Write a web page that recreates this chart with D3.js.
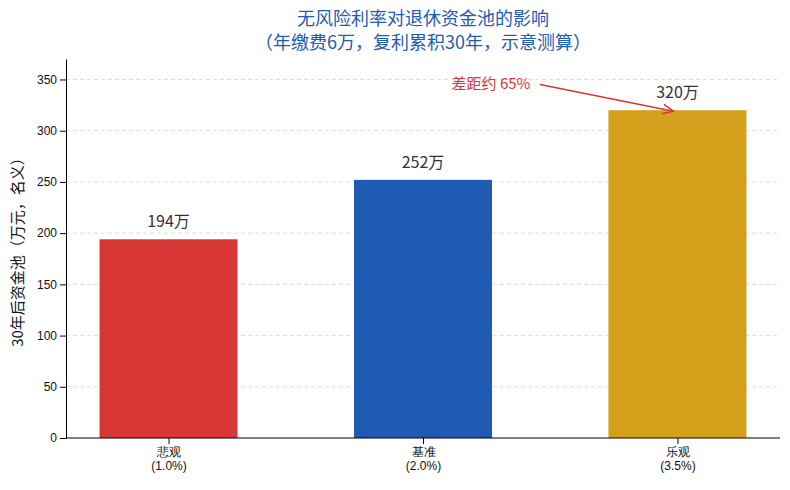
<!DOCTYPE html>
<html><head><meta charset="utf-8">
<script src="https://cdn.jsdelivr.net/npm/d3@7"></script>
<style>body{margin:0;background:#fff;font-family:"Noto Sans CJK SC","Noto Sans",sans-serif}</style>
</head><body><div id="chart"></div>
<script>
var categories = ["悲观\n(1.0%)", "基准\n(2.0%)", "乐观\n(3.5%)"];
var values = [194, 252, 320];
var colors = ["#d93636", "#1f5bb2", "#d4a01c"];
var yTicks = [0, 50, 100, 150, 200, 250, 300, 350];

var width = 790, height = 490;
var mLeft = 66, mRight = 780, mTop = 59, mBottom = 438;

var svg = d3.select("#chart").append("svg")
  .attr("width", width).attr("height", height);

var x = d3.scalePoint().domain(categories).range([mLeft, mRight]).padding(0.403);
var y = d3.scaleLinear().domain([0, 370]).range([mBottom, mTop]);
var barW = 138;

// grid
svg.selectAll(".grid").data(yTicks.slice(1)).enter().append("line")
  .attr("x1", mLeft).attr("x2", mRight)
  .attr("y1", d => y(d)).attr("y2", d => y(d))
  .style("stroke", "#ddd").style("stroke-dasharray", "4,3");

svg.selectAll(".bar").data(values).enter().append("rect")
  .attr("x", (d, i) => x(categories[i]) - barW / 2)
  .attr("y", d => y(d))
  .attr("width", barW)
  .attr("height", d => mBottom - y(d))
  .style("fill", (d, i) => colors[i]);

svg.selectAll(".lbl").data(values).enter().append("text")
  .attr("x", (d, i) => x(categories[i]))
  .attr("y", d => y(d) - 12)
  .attr("text-anchor", "middle")
  .style("font-size", "16px").style("fill", "#333")
  .text(d => d + "万");

// axes
var yAxis = svg.append("g").attr("transform", "translate(" + mLeft + ",0)")
  .call(d3.axisLeft(y).tickValues(yTicks).tickSizeOuter(0));
yAxis.selectAll("text").style("font-size", "12px").style("fill", "#111");
var xAxis = svg.append("g").attr("transform", "translate(0," + mBottom + ")")
  .call(d3.axisBottom(x).tickSizeOuter(0));
xAxis.select(".domain").attr("d", "M" + mLeft + ",0H" + mRight);
xAxis.selectAll(".tick text").each(function(d) {
  var t = d3.select(this).text(null).style("font-size", "12px").style("fill", "#111");
  d.split("\n").forEach(function(s, i) {
    t.append("tspan").attr("x", 0).attr("dy", i ? "1.2em" : "0.71em").text(s);
  });
});

svg.append("text")
  .attr("transform", "translate(23," + ((mTop + mBottom) / 2) + ") rotate(-90)")
  .attr("text-anchor", "middle").style("font-size", "15px").style("fill", "#111")
  .text("30年后资金池（万元，名义）");

svg.append("text").attr("x", 423).attr("y", 25).attr("text-anchor", "middle")
  .style("font-size", "18px").style("fill", "#1f5bb2").text("无风险利率对退休资金池的影响");
svg.append("text").attr("x", 423).attr("y", 49).attr("text-anchor", "middle")
  .style("font-size", "18px").style("fill", "#1f5bb2").text("（年缴费6万，复利累积30年，示意测算）");

// annotation
var gap = Math.round((values[2] / values[0] - 1) * 100);
svg.append("defs").append("marker").attr("id", "arr")
  .attr("viewBox", "0 0 10 10").attr("refX", 9).attr("refY", 5)
  .attr("markerWidth", 8).attr("markerHeight", 8).attr("orient", "auto")
  .append("path").attr("d", "M0,1L9,5L0,9").style("fill", "none").style("stroke", "#d93636").style("stroke-width", 1.3);
svg.append("line")
  .attr("x1", 540).attr("y1", y(345)).attr("x2", x(categories[2]) - 4).attr("y2", y(values[2]) + 1)
  .style("stroke", "#d93636").style("stroke-width", 1.5).attr("marker-end", "url(#arr)");
svg.append("text").attr("x", 491).attr("y", y(350) + 10).attr("text-anchor", "middle")
  .style("font-size", "15px").style("fill", "#d93636").text("差距约 " + gap + "%");
</script></body></html>
